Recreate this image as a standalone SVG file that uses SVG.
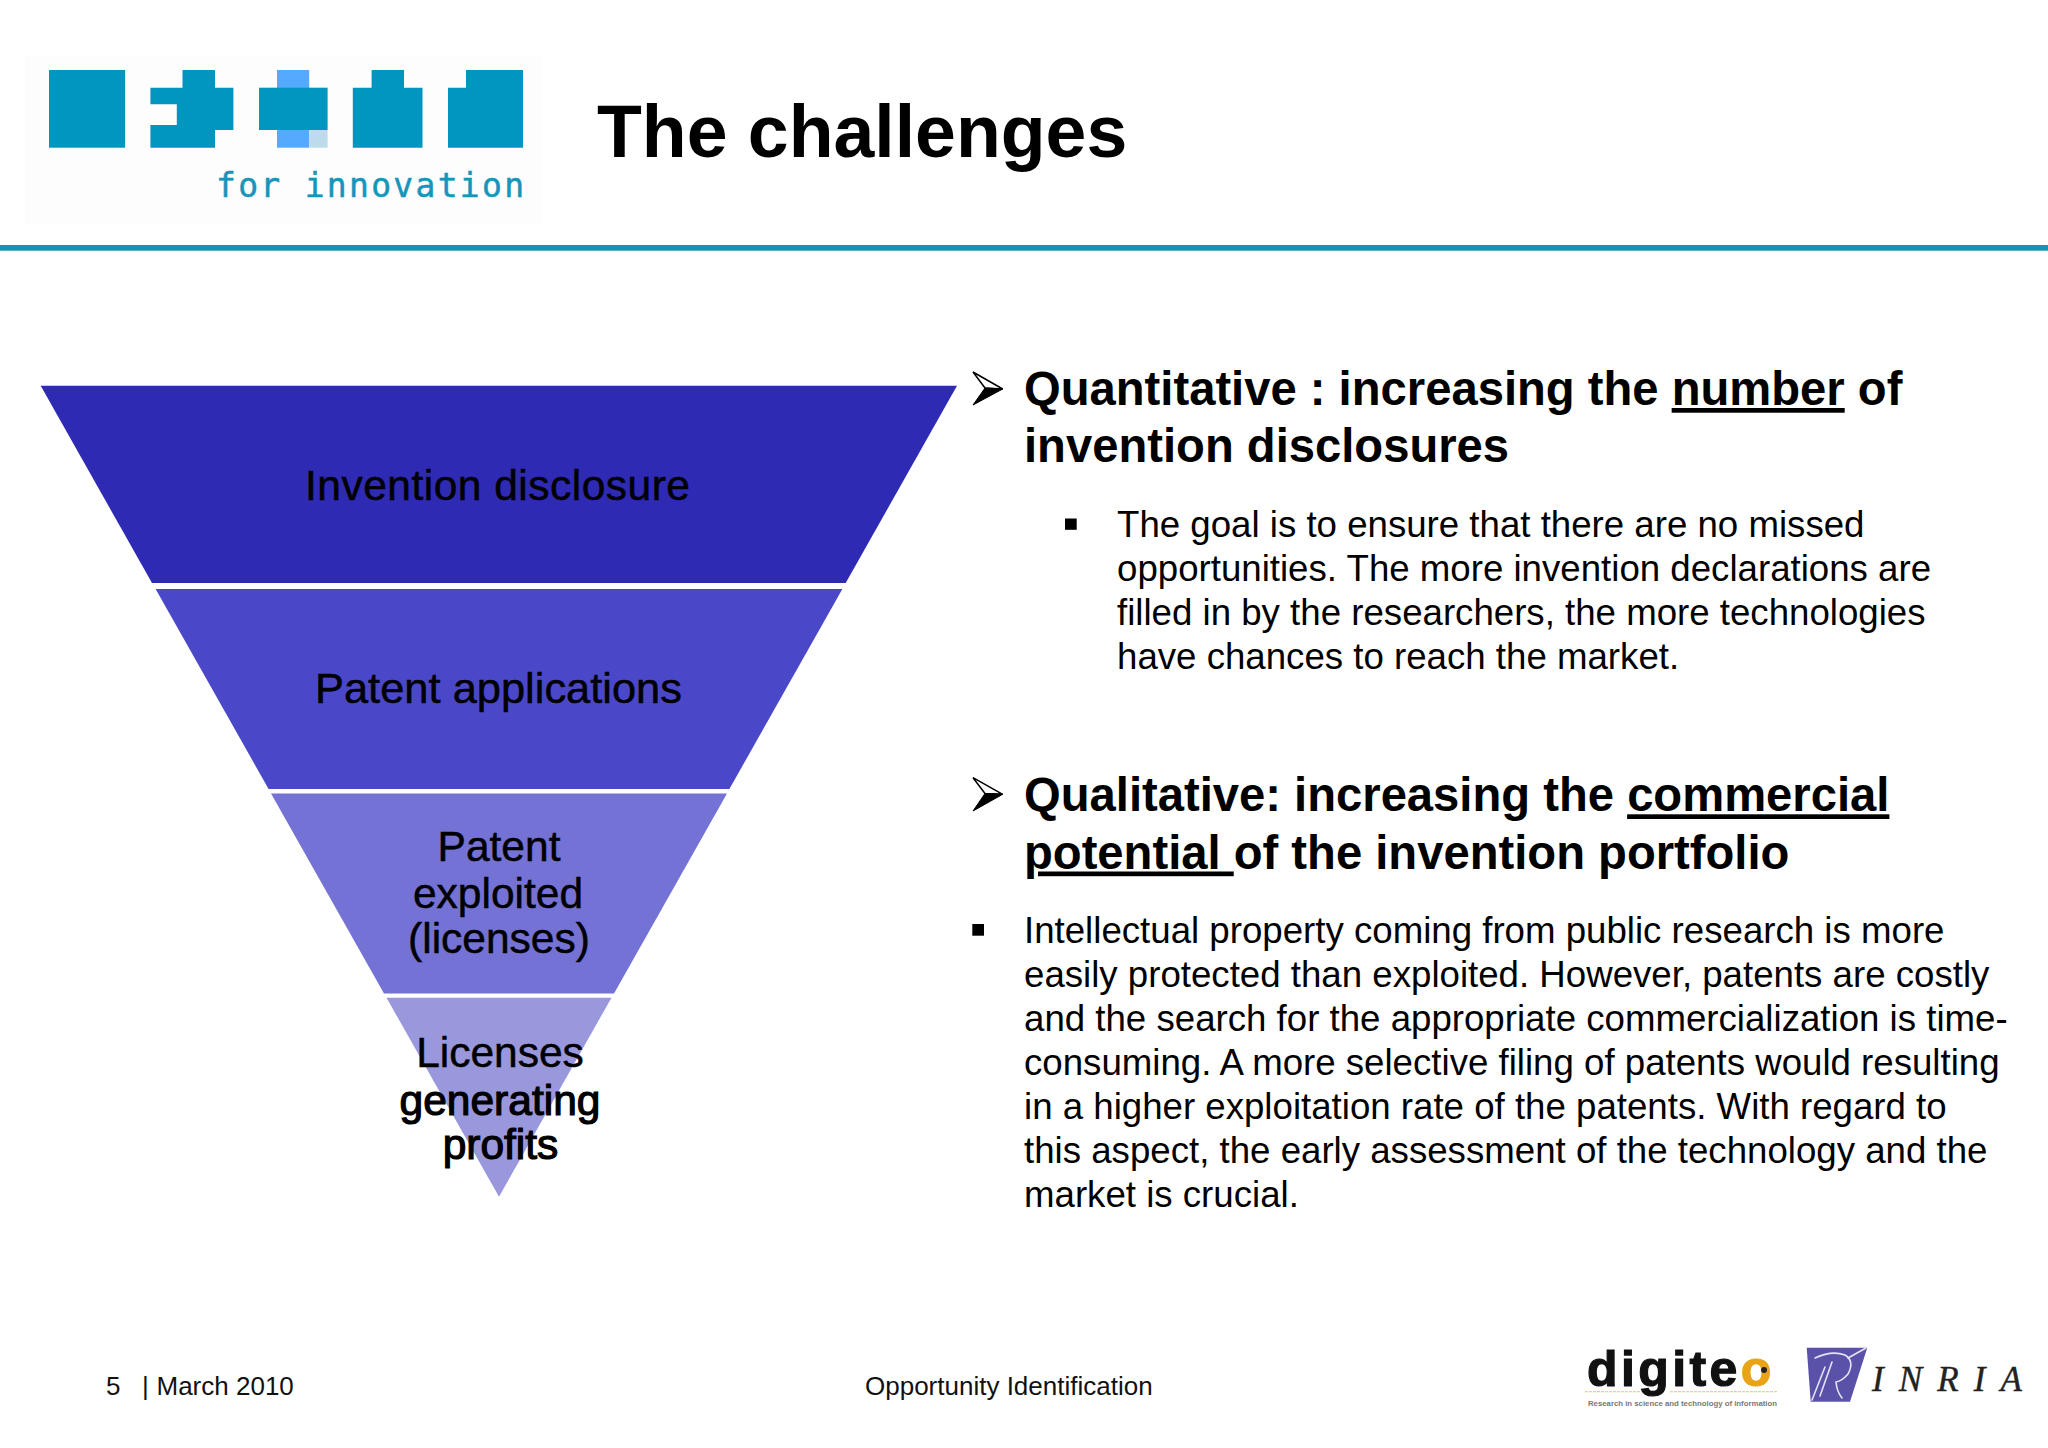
<svg xmlns="http://www.w3.org/2000/svg" width="2048" height="1448" viewBox="0 0 2048 1448">
<style>
text{font-family:"Liberation Sans",Arial,sans-serif;fill:#000}
.h{font-size:47.2px;font-weight:700}
.b{font-size:36.65px}
.f{font-size:26px;fill:#111}
.l{font-size:42.5px;text-anchor:middle;stroke:#000;stroke-width:.5px}
.l2{font-size:42.5px;text-anchor:middle;stroke:#000;stroke-width:1.2px}
.t{fill:#0096bf}
.u{text-decoration:underline}
.w{fill:none;stroke:#e4e3f5;stroke-width:1.6;stroke-linecap:round}
</style>
<rect width="2048" height="1448" fill="#fff"/>
<g id="logo">
<rect x="25" y="55" width="516" height="170" fill="#fdfdfe"/>
<rect class="t" x="49" y="70" width="76.1" height="77.7"/>
<path class="t" d="M182.5 70H215V87.7H233.4V130H215V147.7H150.4V125H176.8V104.3H150.4V87.7H182.5Z"/>
<rect x="277" y="70" width="32.2" height="77.7" fill="#55aaff"/>
<rect x="309.2" y="130" width="18.4" height="17.7" fill="#bcdcec"/>
<rect class="t" x="259" y="87.7" width="68.6" height="42.3"/>
<path class="t" d="M371.6 70H404V87.7H422.5V147.7H352.8V87.7H371.6Z"/>
<path class="t" d="M466 70H523V147.7H448V87.7H466Z"/>
<text x="216" y="196.7" style="font-family:'DejaVu Sans Mono',monospace;font-size:33px;fill:#1695bb;stroke:#1695bb;stroke-width:.5px" textLength="308" lengthAdjust="spacing">for innovation</text>
</g>
<text id="title" x="597" y="157" style="font-size:73.4px;font-weight:700">The challenges</text>
<rect id="rule" x="0" y="245" width="2048" height="5.7" fill="#0d98ae"/>
<g id="band1"><polygon points="40.7,385.7 957,385.7 845.7,583 152,583" fill="#2e2ab3"/><text class="l" x="497.5" y="500" textLength="385" lengthAdjust="spacing">Invention disclosure</text></g>
<g id="band2"><polygon points="155.6,589 842.4,589 729.4,789 268.6,789" fill="#4a48c9"/><text class="l" x="498.5" y="702.5" textLength="367" lengthAdjust="spacingAndGlyphs">Patent applications</text></g>
<g id="band3"><polygon points="271,793.6 727,793.6 614,993.6 384,993.6" fill="#7472d4"/><text class="l" x="499" y="861">Patent</text><text class="l" x="498" y="907.5">exploited</text><text class="l" x="499" y="952.5">(licenses)</text></g>
<g id="band4"><polygon points="386.5,997.7 611.5,997.7 499,1196.7" fill="#9a98dc"/><text class="l" x="500" y="1066.7">Licenses</text><text class="l2" x="500" y="1114.5">generating</text><text class="l2" x="500.5" y="1158.5">profits</text></g>
<g id="text-quantitative">
<polygon points="973,372 1002.7,389 985,388" fill="#fff" stroke="#000" stroke-width="1.5"/>
<polygon points="973,405 1002.7,389 985,388" fill="#000" stroke="#000" stroke-width="1"/>
<text class="h" x="1024" y="405">Quantitative : increasing the <tspan class="u">number</tspan> of</text>
<text class="h" x="1024" y="461.8">invention disclosures</text>
<rect x="1065" y="518.5" width="11.7" height="11.3"/>
<text class="b" x="1117" y="537">The goal is to ensure that there are no missed</text>
<text class="b" x="1117" y="581">opportunities. The more invention declarations are</text>
<text class="b" x="1117" y="625">filled in by the researchers, the more technologies</text>
<text class="b" x="1117" y="669">have chances to reach the market.</text>
</g>
<g id="text-qualitative">
<polygon points="973,777.7 1002.7,794.3 985,793.5" fill="#fff" stroke="#000" stroke-width="1.5"/>
<polygon points="973,811 1002.7,794.3 985,793.5" fill="#000" stroke="#000" stroke-width="1"/>
<text class="h" x="1024" y="811.3">Qualitative: increasing the <tspan class="u">commercial</tspan></text>
<text class="h" x="1024" y="868.5" xml:space="preserve"><tspan class="u">potential </tspan>of the invention portfolio</text>
<rect x="972.3" y="924" width="11.7" height="11.7"/>
<text class="b" x="1024" y="942.5">Intellectual property coming from public research is more</text>
<text class="b" x="1024" y="986.5">easily protected than exploited. However, patents are costly</text>
<text class="b" x="1024" y="1030.5">and the search for the appropriate commercialization is time-</text>
<text class="b" x="1024" y="1074.5">consuming. A more selective filing of patents would resulting</text>
<text class="b" x="1024" y="1118.5">in a higher exploitation rate of the patents. With regard to</text>
<text class="b" x="1024" y="1162.5">this aspect, the early assessment of the technology and the</text>
<text class="b" x="1024" y="1206.7">market is crucial.</text>
</g>
<g id="footer">
<text class="f" x="106" y="1395">5</text>
<text class="f" x="142" y="1395">|</text>
<text class="f" x="156.5" y="1395">March 2010</text>
<text class="f" x="865" y="1395">Opportunity Identification</text>
</g>
<g id="digiteo">
<text x="1587" y="1386" style="font-size:50px;font-weight:700;fill:#111;stroke:#111;stroke-width:1.2px;letter-spacing:3.4px">digite<tspan style="fill:#e8a317;stroke:#e8a317">o</tspan></text>
<circle cx="1764" cy="1370" r="3" fill="#222"/>
<path d="M1585 1391.7H1640M1670 1391.7H1777" stroke="#e8d77a" stroke-width="1.2" stroke-dasharray="3 1" fill="none"/>
<text x="1588" y="1406" textLength="189" lengthAdjust="spacingAndGlyphs" style="font-size:7.5px;font-weight:700;fill:#777">Research in science and technology of information</text>
</g>
<g id="inria">
<polygon points="1806.7,1347.7 1867.3,1347.7 1850,1401.7 1810.7,1401.7" fill="#5a52a8"/>
<path class="w" d="M1815 1358Q1832 1350 1845 1355Q1855 1361 1848 1374Q1842 1381 1836 1382Q1837 1392 1842 1398"/>
<path class="w" d="M1848 1358L1866 1348"/>
<path class="w" d="M1825 1367L1812 1400M1832 1362L1820 1396"/>
<text x="1872" y="1391" textLength="150" lengthAdjust="spacing" style="font-family:'Liberation Serif',serif;font-size:35px;font-style:italic;fill:#222;stroke:#222;stroke-width:.4px">INRIA</text>
</g>
</svg>
